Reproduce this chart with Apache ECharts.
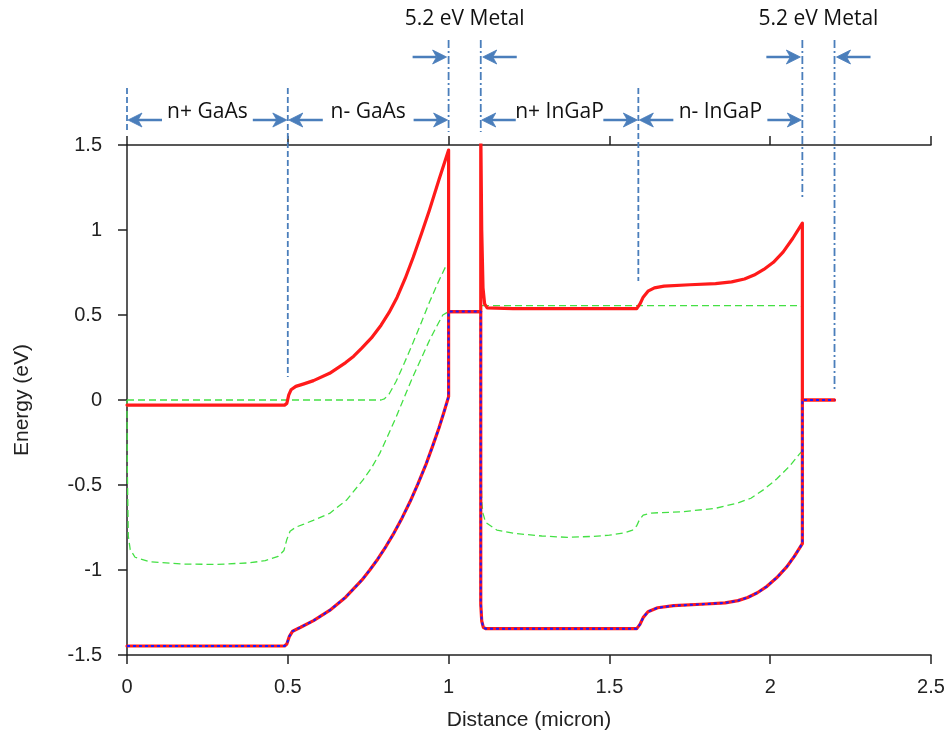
<!DOCTYPE html>
<html><head><meta charset="utf-8">
<script src="https://cdn.jsdelivr.net/npm/echarts@6/dist/echarts.min.js"></script>
<style>html,body{margin:0;padding:0;background:#fff}#c{width:952px;height:738px}</style>
</head><body><div id="c"></div>
<script>
// ---- data (distance in micron, energy in eV) ----
const ecData = [
  [0,-0.03],[0.49,-0.03],[0.497,-0.02],[0.503,0.03],[0.51,0.06],[0.525,0.08],[0.55,0.095],[0.58,0.114],
  [0.63,0.157],[0.68,0.22],[0.705,0.258],[0.73,0.305],[0.76,0.365],[0.79,0.44],[0.815,0.515],[0.84,0.605],
  [0.865,0.715],[0.89,0.84],[0.915,0.975],[0.94,1.115],[0.97,1.295],[1.0,1.47],[1.0,0.52],[1.1,0.52],
  [1.1,1.6],[1.103,1.0],[1.107,0.66],[1.112,0.565],[1.12,0.542],[1.2,0.537],[1.585,0.537],[1.595,0.565],
  [1.605,0.605],[1.62,0.64],[1.64,0.66],[1.67,0.67],[1.75,0.678],[1.83,0.685],[1.88,0.695],[1.92,0.712],
  [1.95,0.735],[1.98,0.768],[2.01,0.81],[2.04,0.87],[2.07,0.95],[2.1,1.04],[2.1,0],[2.2,0]
];
const evData = [
  [0,-1.447],[0.49,-1.447],[0.497,-1.435],[0.505,-1.39],[0.515,-1.36],[0.54,-1.337],[0.58,-1.298],
  [0.63,-1.238],[0.68,-1.16],[0.73,-1.06],[0.755,-1.0],[0.78,-0.935],[0.805,-0.862],[0.83,-0.783],
  [0.855,-0.695],[0.88,-0.599],[0.905,-0.492],[0.93,-0.377],[0.95,-0.273],[0.97,-0.165],[0.985,-0.075],
  [1.0,0.02],[1.0,0.52],[1.1,0.52],[1.1,-1.2],[1.103,-1.3],[1.108,-1.337],[1.115,-1.345],[1.585,-1.345],
  [1.595,-1.32],[1.605,-1.28],[1.62,-1.245],[1.65,-1.222],[1.7,-1.21],[1.8,-1.2],[1.86,-1.193],[1.9,-1.18],
  [1.93,-1.162],[1.96,-1.134],[1.99,-1.096],[2.02,-1.046],[2.05,-0.985],[2.075,-0.92],[2.1,-0.845],
  [2.1,0],[2.2,0]
];
const efnData = [
  [0,0],[0.79,0],[0.8,0.006],[0.815,0.035],[0.837,0.11],[0.863,0.22],[0.889,0.335],[0.915,0.455],
  [0.941,0.578],[0.967,0.69],[0.993,0.794],[1.0,0.8],[1.0,0.52],[1.1,0.52],[1.1,0.555],[2.09,0.555],
  [2.1,0.548],[2.1,0],[2.2,0]
];
const eiData = [
  [0,0],[0.001,-0.4],[0.004,-0.8],[0.01,-0.88],[0.025,-0.925],[0.07,-0.952],[0.175,-0.965],[0.28,-0.967],
  [0.38,-0.958],[0.43,-0.945],[0.47,-0.92],[0.488,-0.885],[0.497,-0.82],[0.507,-0.772],[0.525,-0.748],
  [0.55,-0.73],[0.579,-0.708],[0.63,-0.667],[0.682,-0.59],[0.734,-0.47],[0.76,-0.4],[0.786,-0.314],
  [0.81,-0.215],[0.837,-0.1],[0.863,0.02],[0.889,0.137],[0.915,0.245],[0.941,0.353],[0.962,0.43],
  [0.982,0.5],[1.0,0.52],[1.1,0.52],[1.1,-0.3],[1.103,-0.6],[1.107,-0.667],[1.115,-0.72],[1.15,-0.765],
  [1.21,-0.786],[1.29,-0.8],[1.37,-0.808],[1.45,-0.802],[1.5,-0.795],[1.55,-0.78],[1.572,-0.765],
  [1.585,-0.74],[1.593,-0.706],[1.605,-0.677],[1.63,-0.665],[1.73,-0.657],[1.83,-0.637],[1.9,-0.605],
  [1.94,-0.578],[1.98,-0.527],[2.02,-0.465],[2.06,-0.39],[2.09,-0.32],[2.1,-0.3],[2.1,0],[2.2,0]
];
const layerRegions = [
  {text:'n+ GaAs', from:0, to:0.5},
  {text:'n- GaAs', from:0.5, to:1.0},
  {text:'n+ InGaP', from:1.1, to:1.59},
  {text:'n- InGaP', from:1.59, to:2.1}
];
const metalRegions = [
  {text:'5.2 eV Metal', from:1.0, to:1.1},
  {text:'5.2 eV Metal', from:2.1, to:2.2}
];
// divider lines: layer boundary (micron) and lower end energy (eV) or null (stops above frame)
const dividers = [
  {x:0, endE:null, style:'dash', top:'low'},
  {x:0.5, endE:0.135, style:'dash', top:'low'},
  {x:1.0, endE:null, style:'dashdot', top:'high'},
  {x:1.1, endE:null, style:'dashdot', top:'high'},
  {x:1.59, endE:0.70, style:'dash', top:'low'},
  {x:2.1, endE:1.18, style:'dashdot', top:'high'},
  {x:2.2, endE:0.06, style:'dashdot', top:'high'}
];

const chart = echarts.init(document.getElementById('c'), null, {renderer:'canvas'});
const axisFont = {fontFamily:'Liberation Sans, Arial, sans-serif', fontSize:20, color:'#222'};
const lineCol = '#222';
const option = {
  animation:false,
  backgroundColor:'#fff',
  grid:{left:127, right:21, top:145, bottom:83, containLabel:false},
  xAxis:[{
    type:'value', min:0, max:2.5, interval:0.5, position:'bottom',
    name:'Distance (micron)', nameLocation:'middle', nameGap:55,
    nameTextStyle:{fontFamily:axisFont.fontFamily, fontSize:21, color:'#222'},
    axisLine:{show:true, onZero:false, lineStyle:{color:lineCol, width:1.5}},
    axisTick:{show:true, inside:false, length:9, lineStyle:{color:lineCol, width:1.5}},
    axisLabel:Object.assign({margin:22}, axisFont),
    splitLine:{show:false}
  },{
    type:'value', min:0, max:2.5, interval:0.5, position:'top',
    axisLine:{show:true, onZero:false, lineStyle:{color:lineCol, width:1.5}},
    axisTick:{show:true, inside:false, length:9, lineStyle:{color:lineCol, width:1.5}},
    axisLabel:{show:false}, splitLine:{show:false}
  }],
  yAxis:[{
    type:'value', min:-1.5, max:1.5, interval:0.5, position:'left',
    name:'Energy (eV)', nameLocation:'middle', nameGap:94, nameRotate:90,
    nameTextStyle:{fontFamily:axisFont.fontFamily, fontSize:21, color:'#222'},
    axisLine:{show:true, onZero:false, lineStyle:{color:lineCol, width:1.5}},
    axisTick:{show:true, inside:false, length:9, lineStyle:{color:lineCol, width:1.5}},
    axisLabel:Object.assign({margin:25}, axisFont),
    splitLine:{show:false}
  }],
  series:[
    {name:'Efn', type:'line', data:efnData, symbol:'none', clip:true, z:2,
     lineStyle:{color:'#44e044', width:1.3, type:[7,4]}},
    {name:'Ei', type:'line', data:eiData, symbol:'none', clip:true, z:2,
     lineStyle:{color:'#44e044', width:1.3, type:[7,4]}},
    {name:'Ec', type:'line', data:ecData, symbol:'none', clip:true, z:3,
     lineStyle:{color:'#ff1a1a', width:3.2, cap:'round', join:'round'}},
    {name:'Ev', type:'line', data:evData, symbol:'none', clip:true, z:3,
     lineStyle:{color:'#ff1a1a', width:3.2, cap:'round', join:'round'}},
    {name:'Ev dotted', type:'line', data:evData, symbol:'none', clip:true, z:4,
     lineStyle:{color:'#1a1aff', width:2, type:[3,3]}}
  ]
};
chart.setOption(option);

// ---- annotations placed through the axis scales ----
const blue = '#4a7ebb';
const annFont = 'Open Sans, Noto Sans, sans-serif';
const px = v => chart.convertToPixel({xAxisIndex:0}, v);
const py = v => chart.convertToPixel({yAxisIndex:0}, v);
const rowTextY = {metal:19, layer:112};
const rowArrowY = {metal:57, layer:120};
const lineTop = {high:40, low:88};
const frameTop = py(1.5);
const g = [];
dividers.forEach(d => {
  const x = px(d.x);
  const y2 = d.endE === null ? frameTop - 13 : py(d.endE);
  g.push({type:'line', shape:{x1:x, y1:lineTop[d.top], x2:x, y2:y2},
    style:{stroke:blue, lineWidth:1.8, lineDash: d.style === 'dash' ? [6,3] : [8,3,2,3]}, z:10});
});
function arrow(tipX, y, dir, len) {
  const tailX = tipX - dir * len;
  const headL = 14, headW = 7, notch = 10;
  g.push({type:'line', shape:{x1:tailX, y1:y, x2:tipX - dir*notch, y2:y},
    style:{stroke:blue, lineWidth:2.5}, z:10});
  g.push({type:'polygon', shape:{points:[[tipX, y],[tipX - dir*headL, y - headW],[tipX - dir*notch, y],[tipX - dir*headL, y + headW]]},
    style:{fill:blue, stroke:blue, lineWidth:0.8}, z:10});
}
layerRegions.forEach(r => {
  const a = px(r.from), b = px(r.to);
  g.push({type:'text', x:(a+b)/2, y:rowTextY.layer,
    style:{text:r.text, fill:'#111', font:'21px ' + annFont, align:'center', verticalAlign:'middle'}, z:10});
  arrow(a + 1, rowArrowY.layer, -1, 34);
  arrow(b - 1, rowArrowY.layer, 1, 34);
});
metalRegions.forEach(r => {
  const a = px(r.from), b = px(r.to);
  g.push({type:'text', x:(a+b)/2, y:rowTextY.metal,
    style:{text:r.text, fill:'#111', font:'21px ' + annFont, align:'center', verticalAlign:'middle'}, z:10});
  arrow(a - 2, rowArrowY.metal, 1, 34);
  arrow(b + 2, rowArrowY.metal, -1, 34);
});
chart.setOption({graphic:g});
</script></body></html>
